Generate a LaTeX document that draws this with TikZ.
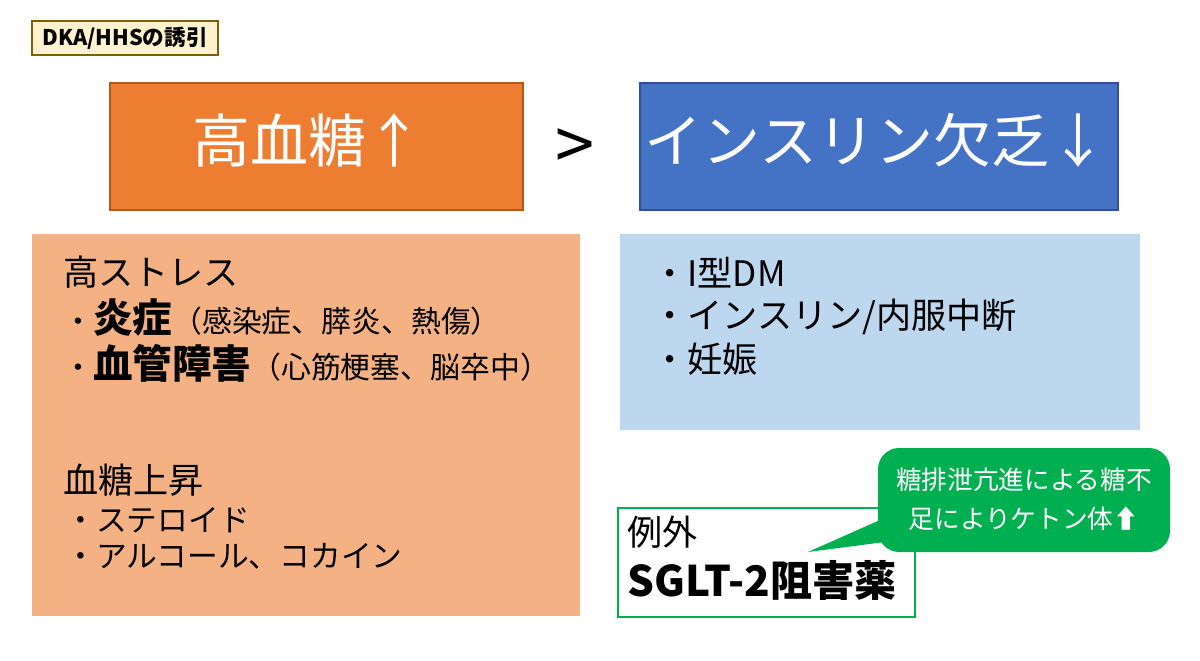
\documentclass[tikz,border=0pt]{standalone}
\usepackage{fontspec}
\setmainfont{Noto Sans CJK JP}
\definecolor{cream}{HTML}{FFF2CC}
\definecolor{brownb}{HTML}{7F6000}
\definecolor{orng}{HTML}{ED7D31}
\definecolor{orngd}{HTML}{AE5A21}
\definecolor{lorng}{HTML}{F4B183}
\definecolor{blu}{HTML}{4472C4}
\definecolor{blud}{HTML}{2F528F}
\definecolor{lblu}{HTML}{BDD7EE}
\definecolor{grn}{HTML}{00B050}
\tikzset{
 big/.style={font=\fontsize{33}{36}\selectfont, text=white, anchor=center},
 body/.style={font=\fontsize{20}{24}\selectfont, anchor=west, inner sep=0pt},
 bodyb/.style={font=\fontsize{22.5}{26}\selectfont\bfseries, anchor=base west, inner sep=0pt},
}
\newcommand{\smallpar}{\fontsize{17}{22}\selectfont\mdseries}
\begin{document}
\begin{tikzpicture}[x=0.02cm,y=-0.02cm]
\useasboundingbox (0,0) rectangle (1200,660);
% label
\draw[brownb, fill=cream, line width=0.8pt] (32,21) rectangle (218,55);
\node[font=\fontsize{12.3}{14}\selectfont\bfseries] (lbl) at (125,38) {DKA/HHSの誘引};
% top boxes
\draw[orngd, fill=orng, line width=0.8pt] (110,83) rectangle (523,210);
\node[big] (hg) at (308,140) {高血糖↑};
\node[font=\fontsize{40}{42}\selectfont] (gt) at (575,150) {>};
\draw[blud, fill=blu, line width=0.8pt] (640,83) rectangle (1118,210);
\node[big] (ins) at (876,140) {インスリン欠乏↓};
% left body
\fill[lorng] (32,234) rectangle (580,616);
\node[body] (a1) at (63,272) {高ストレス};
\node[bodyb] (a2) at (63,332) {{\smallpar ・}炎症{\smallpar （感染症、膵炎、熱傷）}};
\node[bodyb] (a3) at (63,378) {{\smallpar ・}血管障害{\smallpar （心筋梗塞、脳卒中）}};
\node[body] (a4) at (63,480) {血糖上昇};
\node[body, font=\fontsize{17.5}{22}\selectfont] (a5) at (65,520) {・ステロイド};
\node[body, font=\fontsize{17.5}{22}\selectfont] (a6) at (65,556) {・アルコール、コカイン};
% right body
\fill[lblu] (620,234) rectangle (1140,430);
\node[body] (b1) at (652,273) {・I型DM};
\node[body] (b2) at (652,317) {・インスリン/内服中断};
\node[body] (b3) at (652,359) {・妊娠};
% exception box
\draw[grn, fill=white, line width=1.6pt] (618,508) rectangle (915,617);
\node[body] (c1) at (627,532) {例外};
\node[body, font=\fontsize{24}{26}\selectfont\bfseries] (c2) at (627,580) {SGLT-2阻害薬};
% callout
\fill[grn, rounded corners=12pt] (878,448) rectangle (1170,552);
\fill[grn] (880,520) -- (808,552) -- (900,540) -- cycle;
\node[font=\fontsize{14.6}{22}\selectfont, text=white, align=center] (co) at (1024,499) {糖排泄亢進による糖不\\足によりケトン体⬆};
\end{tikzpicture}
\end{document}
